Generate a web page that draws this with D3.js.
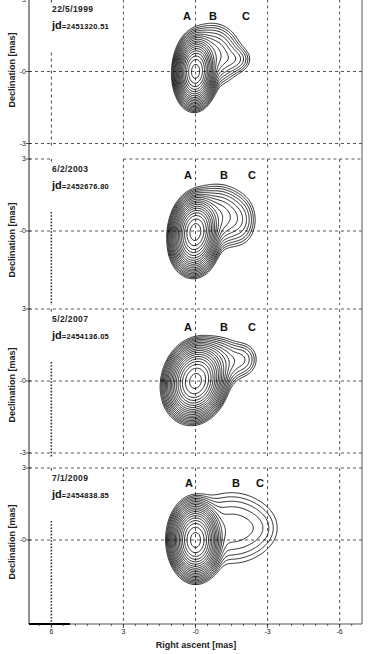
<!DOCTYPE html>
<html><head><meta charset="utf-8">
<script src="https://cdn.jsdelivr.net/npm/d3@7"></script>
<style>body{margin:0;background:#fff} svg{display:block}</style>
</head><body>
<svg id="c" width="368" height="654"></svg>
<script>
// ---------- data ----------
const epochs = ["22/5/1999", "6/2/2003", "5/2/2007", "7/1/2009"];
const jds = ["2451320.51", "2452676.80", "2454136.05", "2454838.85"];
const xTicks = [6, 3, 0, -3, -6];
const xTickLabels = ["6", "3", "-0", "-3", "-6"];
const yTicks = [[3, 0, -3], [3, 0], [3, 0, -3], [3, 0]];
const yTickLabels = [["3", "-0", "-3"], ["3", "-0"], ["3", "-0", "-3"], ["3", "-0"]];
const decLow = [-3.15, -3.08, -3.2, -3.5];
const knotNames = ["A", "B", "C"];
const knotRA = [[0.35, -0.73, -2.1], [0.31, -1.19, -2.35], [0.31, -1.19, -2.35], [0.27, -1.68, -2.68]];
const knotDec = [2.31, 2.33, 2.25, 2.37];
// model components (mas): RA offset, Dec offset, relative flux, sigma RA, sigma Dec, tilt (rad)
const compRA   = [[0, -0.7, -1.7], [0, 0.1, -0.9, -1.9], [0, -1.0, -2.0], [0, -1.5, -2.7]];
const compDec  = [[0, 0.7, 0.5], [0, -0.7, 0.6, 0.4], [0, 0.8, 0.9], [0, 0.5, 0.5]];
const compFlux = [[1, 0.03, 0.008], [1, 0.15, 0.035, 0.007], [1, 0.02, 0.008], [1, 0.0125, 0.002]];
const compSigX = [[0.29, 0.55, 0.35], [0.34, 0.35, 0.6, 0.35], [0.42, 0.5, 0.35], [0.36, 1.0, 0.5]];
const compSigY = [[0.50, 0.60, 0.30], [0.50, 0.45, 0.60, 0.55], [0.55, 0.5, 0.4], [0.54, 0.85, 0.5]];
const compTilt = [[0.05, 0, 0], [0.1, 0, 0, 0], [0.25, 0, 0], [0, 0, 0]];
const levels = [0.85, 0.62, 0.45, 0.33, 0.24, 0.175, 0.128, 0.093, 0.068, 0.05, 0.036,
  0.026, 0.019, 0.014, 0.01, 0.0073, 0.0053, 0.0039, 0.0028];

// ---------- layout ----------
const svg = d3.select("#c");
const left = 29, right = 362, bottom = 624;
const pxPerMas = 24;
const zeroY = [71.5, 231, 381, 540];
const x = d3.scaleLinear().domain([6.93, -6.93]).range([left, right]);

const gridColor = "#444";
const font = "'Liberation Sans', Arial, sans-serif";

// grid for contouring
const step = 0.04, raMax = 2.5, raMin = -4.2, dMax = 3.2, dMin = -3.6;
const nx = Math.round((raMax - raMin) / step) + 1, ny = Math.round((dMax - dMin) / step) + 1;

epochs.forEach((ep, p) => {
  const y = d3.scaleLinear().domain([3, decLow[p]]).range([zeroY[p] - 3 * pxPerMas, zeroY[p] - decLow[p] * pxPerMas]);
  const top = y(3), bot = y(decLow[p]);
  const g = svg.append("g");
  const clipId = "clip" + p;
  svg.append("clipPath").attr("id", clipId).append("rect")
    .attr("x", left).attr("y", top - 1).attr("width", right - left).attr("height", bot - top + 1);

  // vertical grid lines
  xTicks.forEach((t, i) => {
    if (t === 6) return;
    g.append("line").attr("x1", x(t)).attr("x2", x(t)).attr("y1", top).attr("y2", bot)
      .attr("stroke", gridColor).attr("stroke-width", 0.9).attr("stroke-dasharray", "3,3");
  });
  // 6 mas line (partly hidden behind the label box)
  g.append("line").attr("x1", x(6)).attr("x2", x(6)).attr("y1", top + 53).attr("y2", bot)
    .attr("stroke", "#333").attr("stroke-width", p === 0 ? 0.9 : 1.6).attr("stroke-dasharray", p === 0 ? "3,3" : "1.6,1.6");
  g.append("line").attr("x1", x(6)).attr("x2", x(6)).attr("y1", Math.max(top, 0)).attr("y2", Math.max(top, 0) + 2.5)
    .attr("stroke", "#333").attr("stroke-width", 1);

  // horizontal grid lines
  yTicks[p].forEach((t, i) => {
    const covered = (t === 3 && p < 2);
    const segs = covered ? [[left, x(6)], [x(3), right]] : [[left, right]];
    segs.forEach(s => {
      g.append("line").attr("x1", s[0]).attr("x2", s[1]).attr("y1", y(t)).attr("y2", y(t))
        .attr("stroke", gridColor).attr("stroke-width", 0.9).attr("stroke-dasharray", "3,3");
    });
    g.append("line").attr("x1", left - 3).attr("x2", left + 2).attr("y1", y(t)).attr("y2", y(t))
      .attr("stroke", "#222").attr("stroke-width", 0.8);
    g.append("text").attr("x", left - 3).attr("y", y(t)).attr("dy", "0.35em")
      .attr("text-anchor", "end").attr("font-family", font).attr("font-size", 7)
      .attr("fill", "#222").text(yTickLabels[p][i]);
  });

  // model field
  const vals = new Float64Array(nx * ny);
  for (let j = 0; j < ny; j++) {
    const dec = dMax - j * step;
    for (let i = 0; i < nx; i++) {
      const ra = raMax - i * step;
      let s = 0;
      for (let k = 0; k < compRA[p].length; k++) {
        const dx = ra - compRA[p][k], dy = dec - compDec[p][k], th = compTilt[p][k];
        const u = dx * Math.cos(th) + dy * Math.sin(th);
        const v = -dx * Math.sin(th) + dy * Math.cos(th);
        s += compFlux[p][k] * Math.exp(-0.5 * (u * u / (compSigX[p][k] ** 2) + v * v / (compSigY[p][k] ** 2)));
      }
      vals[j * nx + i] = s;
    }
  }
  const contours = d3.contours().size([nx, ny]).thresholds(levels)(vals);
  const proj = d3.geoTransform({
    point: function (cx, cy) {
      this.stream.point(x(raMax - (cx - 0.5) * step), y(dMax - (cy - 0.5) * step));
    }
  });
  const path = d3.geoPath(proj);
  g.append("g").attr("clip-path", `url(#${clipId})`).selectAll("path").data(contours).join("path")
    .attr("d", path).attr("fill", "none").attr("stroke", "#000").attr("stroke-width", 0.85);

  // labels
  g.append("text").attr("x", 52).attr("y", top + 10).attr("dy", "0.35em")
    .attr("font-family", font).attr("font-size", 8.5).attr("font-weight", "bold").attr("fill", "#222")
    .attr("letter-spacing", 0.4).text(ep);
  const jt = g.append("text").attr("x", 52).attr("y", top + 24).attr("dy", "0.35em")
    .attr("font-family", font).attr("fill", "#111").attr("font-weight", "bold");
  jt.append("tspan").attr("font-size", 11).text("jd");
  jt.append("tspan").attr("font-size", 7.5).attr("letter-spacing", 0.3).text("=" + jds[p]);

  knotNames.forEach((n, k) => {
    g.append("text").attr("x", x(knotRA[p][k])).attr("y", y(knotDec[p])).attr("dy", "0.35em")
      .attr("text-anchor", "middle").attr("font-family", font).attr("font-size", 11)
      .attr("font-weight", "bold").attr("fill", "#111").text(n);
  });

  // Declination title
  const cy = [70, 240, 385, 542][p];
  svg.append("text").attr("transform", `translate(12,${cy}) rotate(-90)`).attr("text-anchor", "middle")
    .attr("dy", "0.35em").attr("font-family", font).attr("font-size", 9).attr("font-weight", "bold")
    .attr("fill", "#222").text("Declination [mas]");
});

// frame
svg.append("line").attr("x1", left).attr("x2", left).attr("y1", 0).attr("y2", bottom).attr("stroke", "#222").attr("stroke-width", 1);
svg.append("line").attr("x1", right).attr("x2", right).attr("y1", 0).attr("y2", bottom).attr("stroke", "#555").attr("stroke-width", 1);
svg.append("line").attr("x1", left).attr("x2", right).attr("y1", bottom).attr("y2", bottom).attr("stroke", "#555").attr("stroke-width", 1);
svg.append("line").attr("x1", left).attr("x2", 70).attr("y1", bottom).attr("y2", bottom).attr("stroke", "#000").attr("stroke-width", 2);

// x axis ticks
const minor = d3.range(-6.5, 7, 0.5);
svg.append("g").selectAll("line").data(minor).join("line")
  .attr("x1", d => x(d)).attr("x2", d => x(d)).attr("y1", bottom).attr("y2", bottom + 2)
  .attr("stroke", "#333").attr("stroke-width", 0.8);
xTicks.forEach((t, i) => {
  svg.append("line").attr("x1", x(t)).attr("x2", x(t)).attr("y1", bottom).attr("y2", bottom + 4)
    .attr("stroke", "#222").attr("stroke-width", 0.8);
  svg.append("text").attr("x", x(t)).attr("y", 632).attr("dy", "0.35em").attr("text-anchor", "middle")
    .attr("font-family", font).attr("font-size", 7).attr("fill", "#222").text(xTickLabels[i]);
});
svg.append("text").attr("x", 196).attr("y", 645).attr("dy", "0.35em").attr("text-anchor", "middle")
  .attr("font-family", font).attr("font-size", 9).attr("font-weight", "bold").attr("fill", "#222")
  .text("Right ascent [mas]");
</script>
</body></html>
